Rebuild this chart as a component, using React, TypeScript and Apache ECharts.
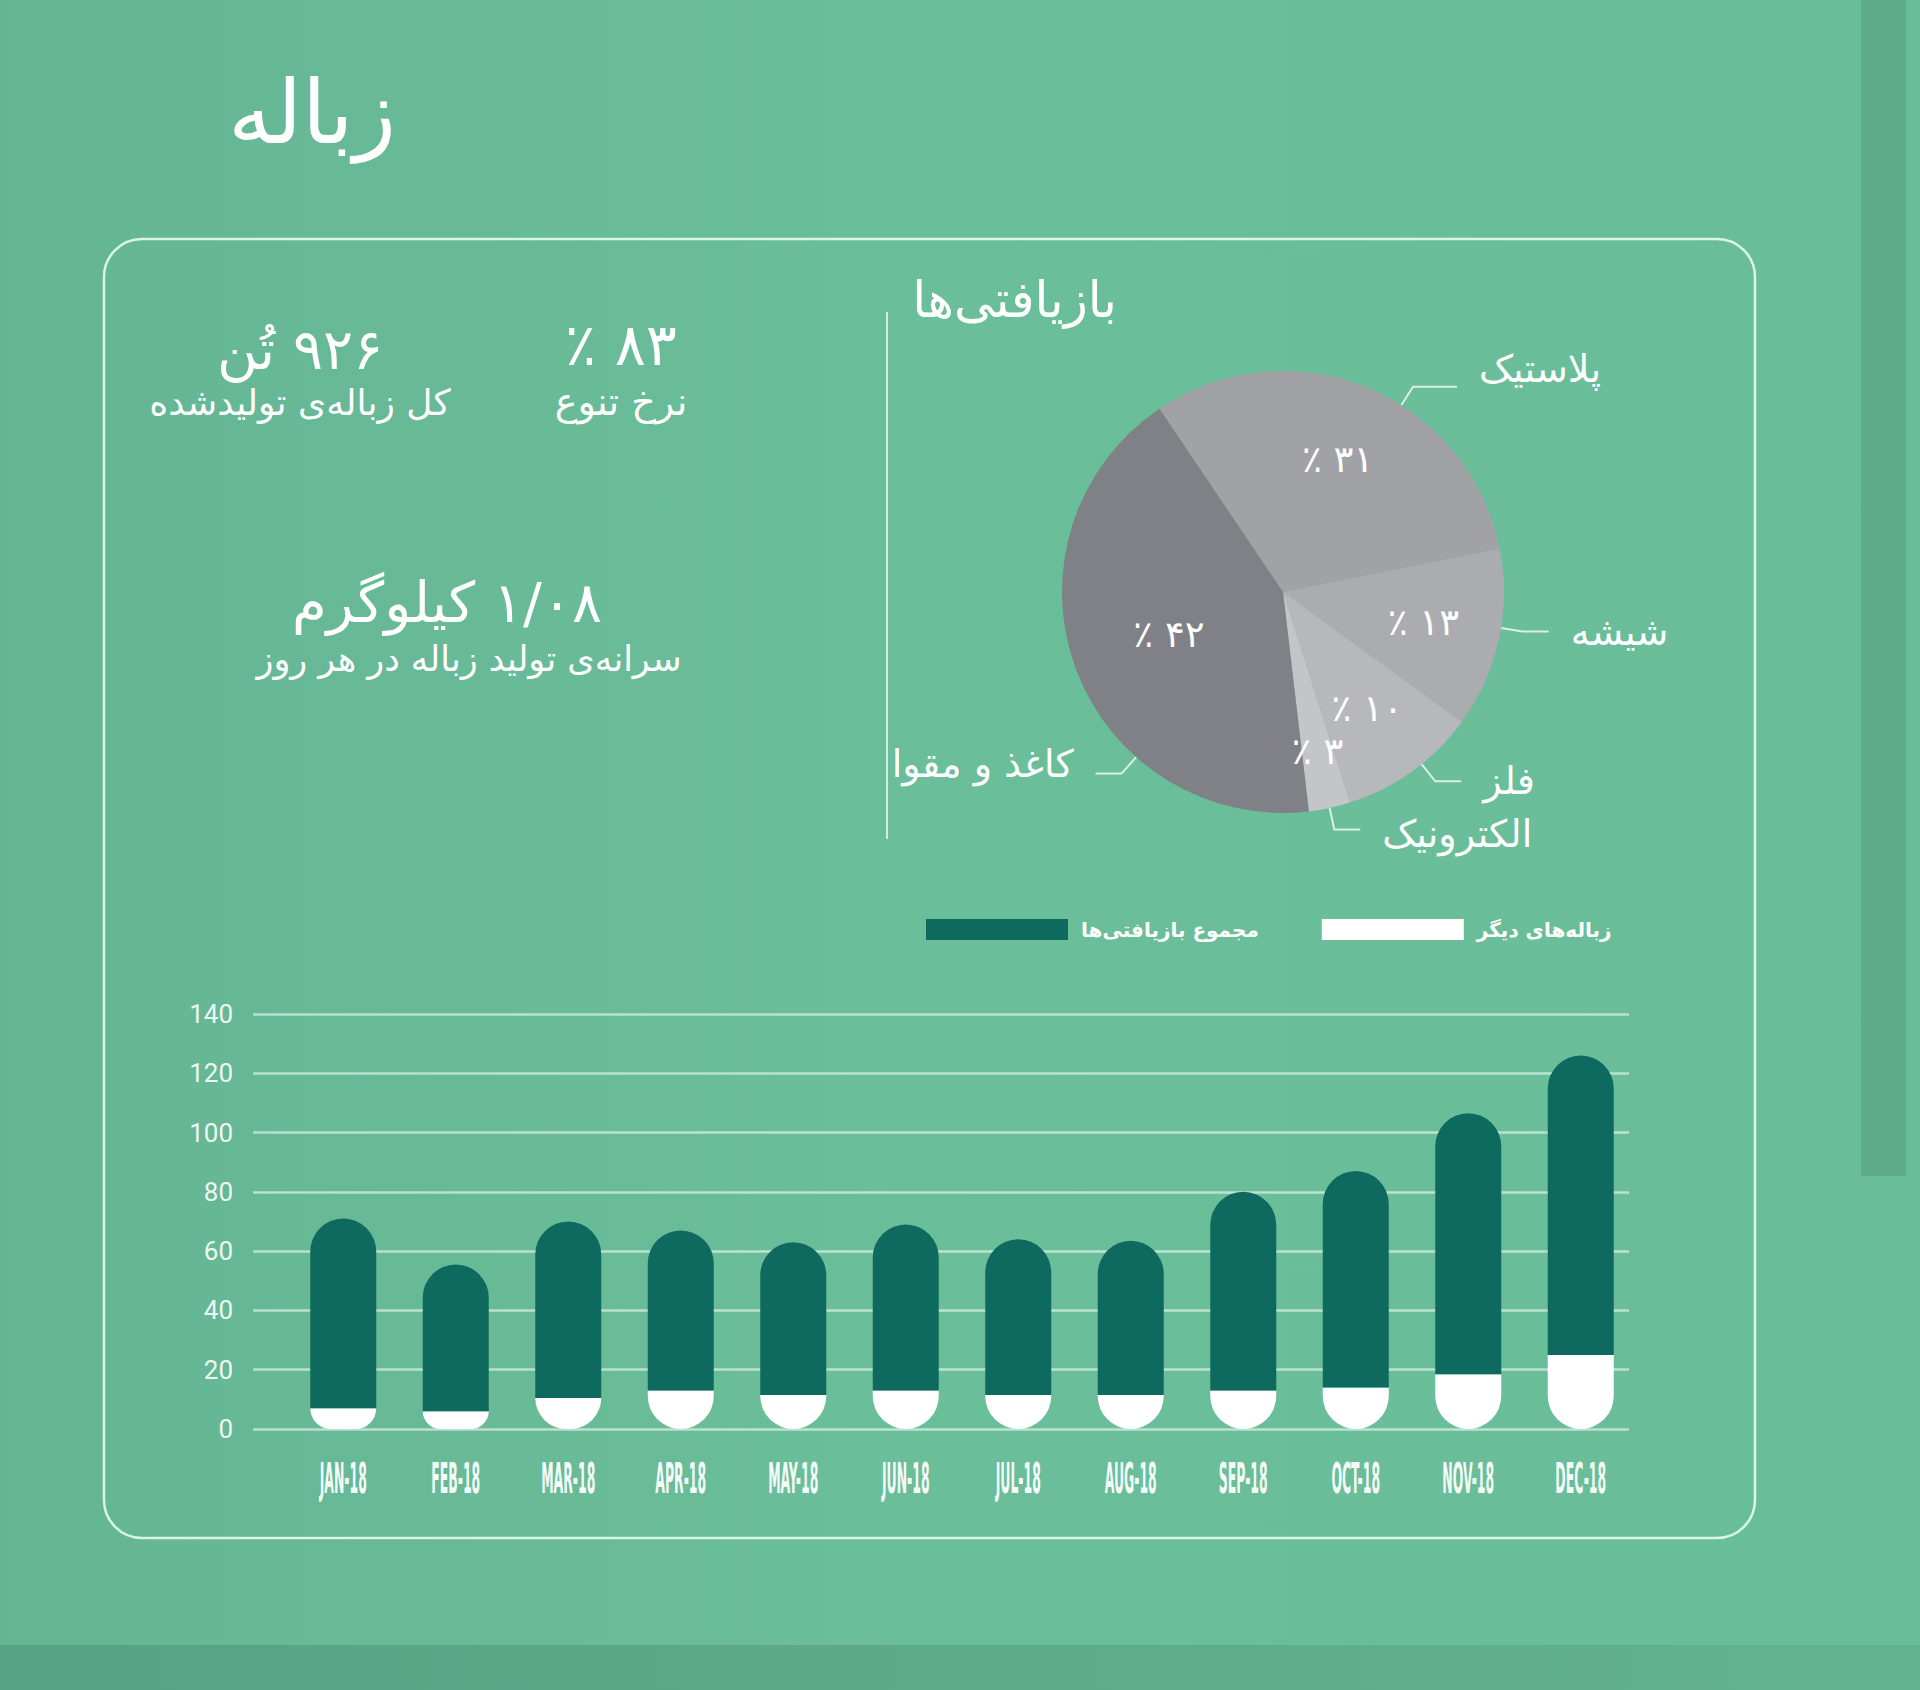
import React, { useEffect, useRef } from 'react';
import * as echarts from 'echarts';

// داده‌های نمودار میله‌ای (تن)
const months = ['JAN-18', 'FEB-18', 'MAR-18', 'APR-18', 'MAY-18', 'JUN-18', 'JUL-18', 'AUG-18', 'SEP-18', 'OCT-18', 'NOV-18', 'DEC-18'];
const recycled = [64, 49.5, 59.5, 54, 51.5, 56, 52.5, 52, 67, 73, 88, 101];
const otherWaste = [7, 6, 10.5, 13, 11.5, 13, 11.5, 11.5, 13, 14, 18.5, 25];
const seriesNames = ['مجموع بازیافتی‌ها', 'زباله‌های دیگر'];

// داده‌های نمودار دایره‌ای (درصد)
const pieNames = ['پلاستیک', 'شیشه', 'فلز', 'الکترونیک', 'کاغذ و مقوا'];
const pieValues = [31, 13, 10, 3, 42];
const pieColors = ['#a1a2a6', '#abacb0', '#b7b8bc', '#c4c5c8', '#808186'];

// شاخص‌ها
const kpiValues = ['۹۲۶ تُن', '۸۳ ٪', '۱/۰۸ کیلوگرم'];
const kpiCaptions = ['کل زباله‌ی تولیدشده', 'نرخ تنوع', 'سرانه‌ی تولید زباله در هر روز'];

const FA = '"DejaVu Sans", sans-serif';
const DARK = '#0e6a5e';

// چیدمان دایره
const PIE_C = [1283, 592];
const PIE_R = 221;
const LINE1 = 22;
const LINE2 = 26;
const LABEL_GAP = 22;
// تنظیم دستی جای برچسب‌ها (درجه و پیکسل)
const anchorShift = [-10, 3, 3, 0, 28];
const extraLine2 = [18, 0, 0, 0, 0];
const labelDy = [-18, 0, 0, 4, -10];
const innerRadial = [0.65, 0.65, 0.65, 0.74, 0.55];

const toFa = (n: number) => String(n).replace(/\d/g, (d) => '۰۱۲۳۴۵۶۷۸۹'[+d]);
// جهت راست به چپ برای متن‌های فارسی
const rtl = (s: string) => '\u202B' + s + '\u202C';

const faText = (text: string, x: number, y: number, fontSize: number, align = 'center') => ({
  type: 'text',
  x,
  y,
  style: {
    text: rtl(text),
    fill: '#ffffff',
    fontSize,
    fontFamily: FA,
    align,
    verticalAlign: 'middle'
  }
});

const App: React.FC = () => {
  const chartRef = useRef<HTMLDivElement>(null);

  useEffect(() => {
    if (!chartRef.current) return;
    const chart = echarts.init(chartRef.current, null, { renderer: 'svg' });

    const outerLabelLayout = (p: any) => {
      const pts = p.labelLinePoints;
      if (!pts) return {};
      const i = p.dataIndex;
      const a0 = Math.atan2(pts[0][1] - PIE_C[1], pts[0][0] - PIE_C[0]);
      const a = a0 - (anchorShift[i] * Math.PI) / 180;
      const cos = Math.cos(a);
      const sin = Math.sin(a);
      const dir = cos >= 0 ? 1 : -1;
      const q0 = [PIE_C[0] + PIE_R * cos, PIE_C[1] + PIE_R * sin];
      const q1 = [PIE_C[0] + (PIE_R + LINE1) * cos, PIE_C[1] + (PIE_R + LINE1) * sin];
      const q2 = [q1[0] + dir * (LINE2 + extraLine2[i]), q1[1]];
      return {
        x: q2[0] + dir * LABEL_GAP,
        y: q2[1] + labelDy[i],
        align: dir > 0 ? 'left' : 'right',
        verticalAlign: 'middle',
        labelLinePoints: [q0, q1, q2]
      };
    };

    const innerLabelLayout = (p: any) => {
      const r = p.labelRect;
      const a = Math.atan2(r.y + r.height / 2 - PIE_C[1], r.x + r.width / 2 - PIE_C[0]);
      const d = PIE_R * innerRadial[p.dataIndex];
      return {
        x: PIE_C[0] + d * Math.cos(a),
        y: PIE_C[1] + d * Math.sin(a),
        align: 'center',
        verticalAlign: 'middle',
        hideOverlap: false
      };
    };

    const option: any = {
      animation: false,
      backgroundColor: 'transparent',
      graphic: [
        {
          type: 'rect',
          z: -100,
          shape: { x: 0, y: 0, width: 1920, height: 1690 },
          style: {
            fill: new echarts.graphic.LinearGradient(0, 0, 1, 0, [
              { offset: 0, color: '#64b594' },
              { offset: 0.45, color: '#6bbe9a' },
              { offset: 1, color: '#6abd99' }
            ])
          }
        },
        {
          type: 'rect',
          z: -90,
          shape: { x: 1861, y: 0, width: 45, height: 1176 },
          style: { fill: '#5eab8b' }
        },
        {
          type: 'rect',
          z: -90,
          shape: { x: 0, y: 1645, width: 1920, height: 45 },
          style: {
            fill: new echarts.graphic.LinearGradient(0, 0, 1, 0, [
              { offset: 0, color: '#57a284' },
              { offset: 1, color: '#63b291' }
            ])
          }
        },
        {
          type: 'rect',
          z: -80,
          shape: { x: 104, y: 239, width: 1651, height: 1299, r: 38 },
          style: { fill: 'none', stroke: 'rgba(236,255,246,0.85)', lineWidth: 2.5 }
        },
        {
          type: 'line',
          z: -80,
          shape: { x1: 887, y1: 312, x2: 887, y2: 839 },
          style: { stroke: 'rgba(255,255,255,0.7)', lineWidth: 2 }
        },
        faText('زباله', 312, 112, 88),
        faText(kpiValues[0], 300, 349, 56),
        faText(kpiCaptions[0], 300, 402, 36),
        faText(kpiValues[1], 621, 345, 58),
        faText(kpiCaptions[1], 621, 402, 38),
        faText(kpiValues[2], 447, 602, 56),
        faText(kpiCaptions[2], 469, 659, 35),
        faText('بازیافتی‌ها', 1117, 300, 50, 'right')
      ],
      legend: {
        data: seriesNames,
        left: 921,
        top: 914,
        icon: 'rect',
        itemWidth: 142,
        itemHeight: 21,
        itemGap: 63,
        formatter: (name: string) => rtl(name),
        textStyle: {
          color: '#ffffff',
          fontSize: 20,
          fontWeight: 'bold',
          fontFamily: FA,
          padding: [0, 0, 0, 8]
        }
      },
      grid: [
        { left: 253, width: 1376, top: 1014, height: 415 },
        { left: 287, width: 1350, top: 1014, height: 415 }
      ],
      xAxis: [
        { gridIndex: 0, type: 'value', min: 0, max: 1, show: false },
        {
          gridIndex: 1,
          type: 'category',
          data: months,
          show: false
        }
      ],
      yAxis: [
        {
          gridIndex: 0,
          type: 'value',
          min: 0,
          max: 140,
          interval: 20,
          axisLine: { show: false },
          axisTick: { show: false },
          axisLabel: {
            color: '#eef8f3',
            fontSize: 26,
            fontFamily: 'Roboto, sans-serif',
            margin: 20
          },
          splitLine: { lineStyle: { color: 'rgba(255,255,255,0.55)', width: 2.5 } }
        },
        { gridIndex: 1, type: 'value', min: 0, max: 140, show: false }
      ],
      series: [
        {
          name: seriesNames[1],
          type: 'bar',
          xAxisIndex: 1,
          yAxisIndex: 1,
          stack: 'total',
          barWidth: 66,
          data: otherWaste,
          itemStyle: { color: '#ffffff', borderRadius: [0, 0, 33, 33] }
        },
        {
          name: seriesNames[0],
          type: 'bar',
          xAxisIndex: 1,
          yAxisIndex: 1,
          stack: 'total',
          barWidth: 66,
          data: recycled,
          itemStyle: { color: DARK, borderRadius: [33, 33, 0, 0] }
        },
        {
          // برچسب‌های فشرده‌ی ماه‌ها
          type: 'custom',
          xAxisIndex: 1,
          yAxisIndex: 1,
          silent: true,
          clip: false,
          data: months.map((m, i) => [i, 0]),
          renderItem: (params: any, api: any) => {
            const p = api.coord([api.value(0), 0]);
            return {
              type: 'text',
              x: p[0],
              y: p[1] + 49,
              scaleX: 0.33,
              style: {
                text: months[params.dataIndex],
                fill: '#f4fbf7',
                fontSize: 42,
                fontWeight: 'bold',
                fontFamily: '"Liberation Sans Narrow", "DejaVu Sans Condensed", sans-serif',
                align: 'center',
                verticalAlign: 'middle'
              }
            };
          }
        },
        {
          type: 'pie',
          center: PIE_C,
          radius: PIE_R,
          startAngle: 124,
          clockwise: true,
          silent: true,
          data: pieNames.map((n, i) => ({ name: n, value: pieValues[i], itemStyle: { color: pieColors[i] } })),
          label: {
            show: true,
            position: 'outside',
            formatter: (p: any) => rtl(p.name),
            color: '#ffffff',
            fontSize: 38,
            fontFamily: FA
          },
          labelLine: {
            show: true,
            length: LINE1,
            length2: LINE2,
            lineStyle: { color: 'rgba(255,255,255,0.75)', width: 2 }
          },
          labelLayout: outerLabelLayout
        },
        {
          type: 'pie',
          center: PIE_C,
          radius: PIE_R,
          startAngle: 124,
          clockwise: true,
          silent: true,
          avoidLabelOverlap: false,
          z: 5,
          data: pieNames.map((n, i) => ({ name: n, value: pieValues[i] })),
          itemStyle: { color: 'rgba(0,0,0,0)', borderWidth: 0 },
          label: {
            show: true,
            position: 'inside',
            formatter: (p: any) => rtl(toFa(p.value) + ' ٪'),
            color: '#ffffff',
            fontSize: 37,
            fontFamily: FA
          },
          labelLine: { show: false },
          labelLayout: innerLabelLayout
        }
      ]
    };

    chart.setOption(option);

    return () => {
      chart.dispose();
    };
  }, []);

  return (
    <div
      ref={chartRef}
      style={{ position: 'absolute', left: 0, top: 0, width: 1920, height: 1690 }}
    />
  );
};

export default App;
